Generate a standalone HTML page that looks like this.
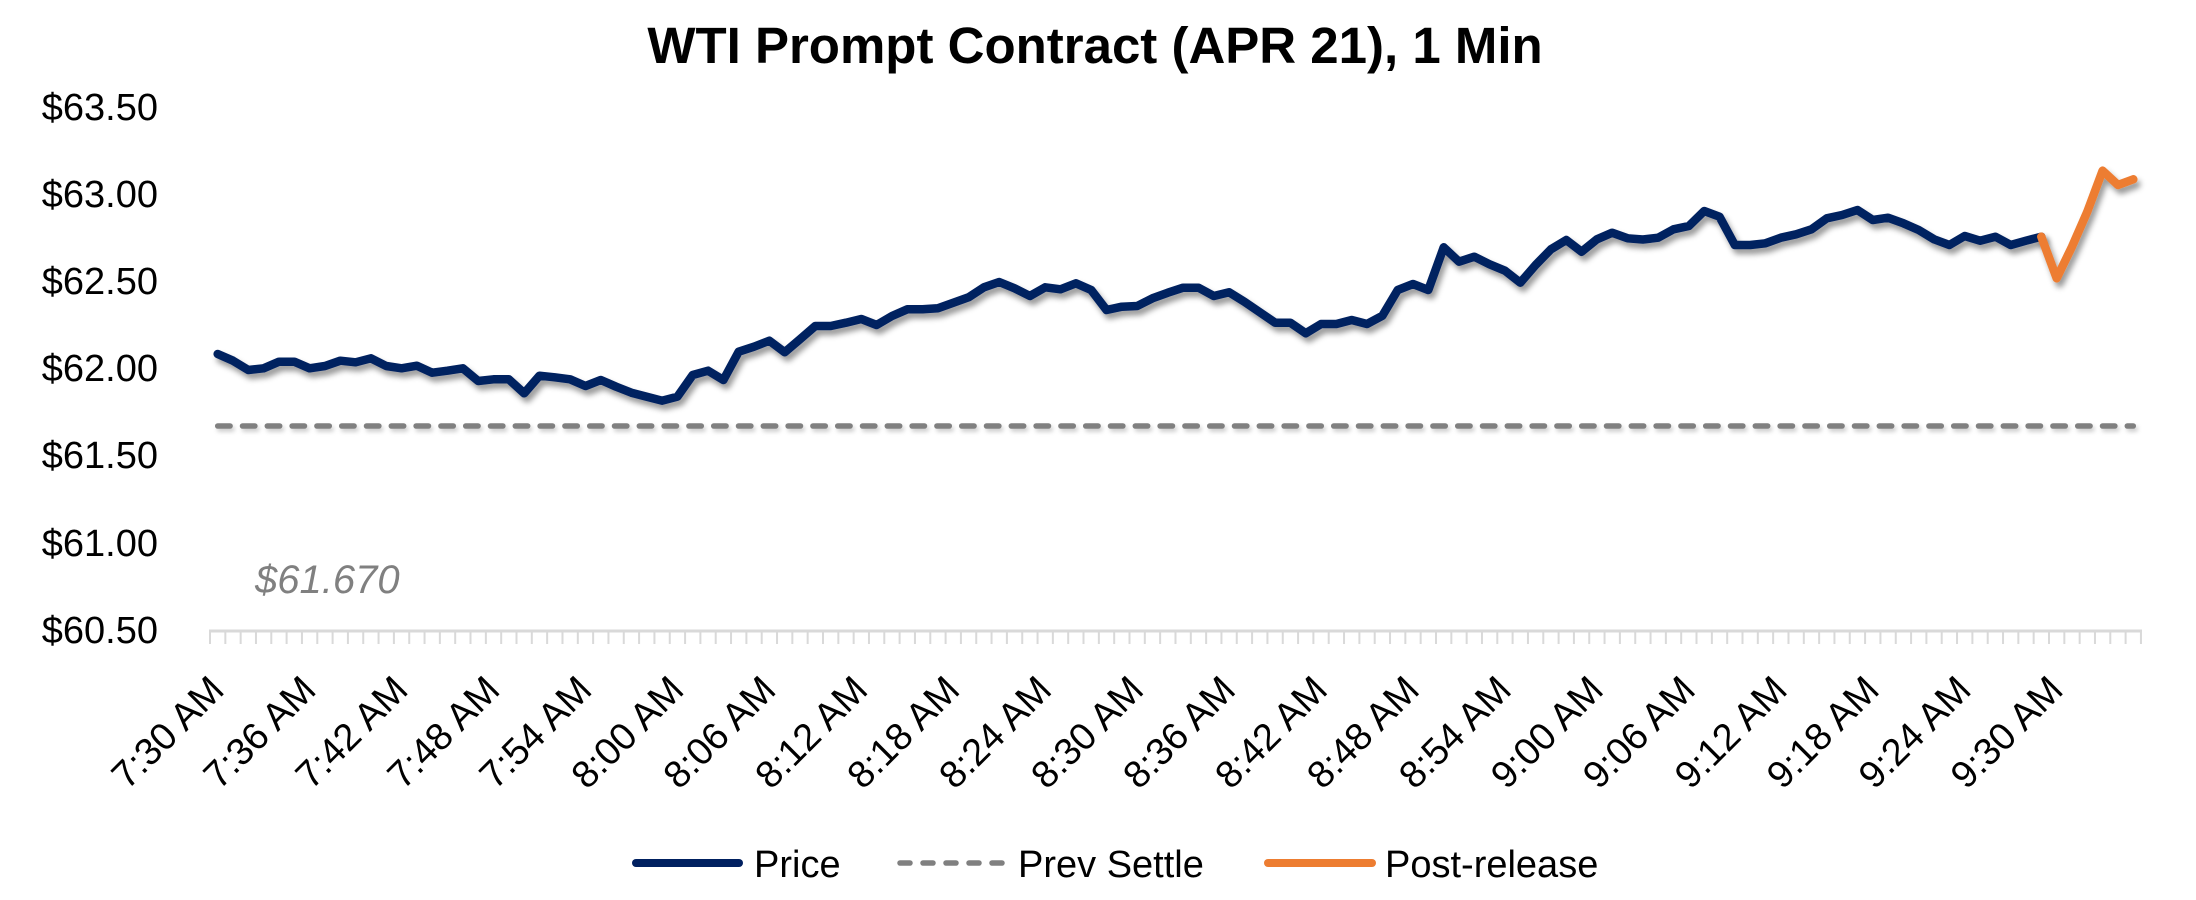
<!DOCTYPE html>
<html>
<head>
<meta charset="utf-8">
<style>
html,body{margin:0;padding:0;background:#fff;}
svg{display:block;}
text{font-family:"Liberation Sans",sans-serif;}
</style>
</head>
<body>
<svg width="2196" height="900" viewBox="0 0 2196 900" xmlns="http://www.w3.org/2000/svg">
<defs>
<filter id="sh" filterUnits="userSpaceOnUse" x="150" y="100" width="2050" height="400">
<feDropShadow dx="3" dy="5" stdDeviation="3" flood-color="#000" flood-opacity="0.4"/>
</filter>
<filter id="sh2" filterUnits="userSpaceOnUse" x="150" y="380" width="2050" height="90">
<feDropShadow dx="2" dy="3" stdDeviation="2" flood-color="#000" flood-opacity="0.2"/>
</filter>
</defs>
<rect width="2196" height="900" fill="#fff"/>

<!-- Title -->
<text x="1095" y="63" font-size="51" font-weight="bold" text-anchor="middle" fill="#000">WTI Prompt Contract (APR 21), 1 Min</text>

<!-- Y axis labels -->
<g font-size="38" fill="#000" text-anchor="end">
<text x="158" y="120">$63.50</text>
<text x="158" y="207">$63.00</text>
<text x="158" y="294">$62.50</text>
<text x="158" y="381">$62.00</text>
<text x="158" y="468">$61.50</text>
<text x="158" y="556">$61.00</text>
<text x="158" y="643">$60.50</text>
</g>

<!-- Prev settle label -->
<text x="255" y="593" font-size="40" font-style="italic" fill="#808080">$61.670</text>

<!-- X axis -->
<line x1="209" y1="631" x2="2142" y2="631" stroke="#d9d9d9" stroke-width="3"/>
<line x1="209" y1="637.5" x2="2142" y2="637.5" stroke="#d9d9d9" stroke-width="13" stroke-dasharray="2 13.325"/>

<!-- X labels -->
<g font-size="38" fill="#000" text-anchor="end">
<text transform="translate(226,692) rotate(-45)">7:30 AM</text>
<text transform="translate(317.9,692) rotate(-45)">7:36 AM</text>
<text transform="translate(409.9,692) rotate(-45)">7:42 AM</text>
<text transform="translate(501.8,692) rotate(-45)">7:48 AM</text>
<text transform="translate(593.8,692) rotate(-45)">7:54 AM</text>
<text transform="translate(685.7,692) rotate(-45)">8:00 AM</text>
<text transform="translate(777.7,692) rotate(-45)">8:06 AM</text>
<text transform="translate(869.6,692) rotate(-45)">8:12 AM</text>
<text transform="translate(961.6,692) rotate(-45)">8:18 AM</text>
<text transform="translate(1053.5,692) rotate(-45)">8:24 AM</text>
<text transform="translate(1145.5,692) rotate(-45)">8:30 AM</text>
<text transform="translate(1237.4,692) rotate(-45)">8:36 AM</text>
<text transform="translate(1329.4,692) rotate(-45)">8:42 AM</text>
<text transform="translate(1421.3,692) rotate(-45)">8:48 AM</text>
<text transform="translate(1513.3,692) rotate(-45)">8:54 AM</text>
<text transform="translate(1605.2,692) rotate(-45)">9:00 AM</text>
<text transform="translate(1697.2,692) rotate(-45)">9:06 AM</text>
<text transform="translate(1789.1,692) rotate(-45)">9:12 AM</text>
<text transform="translate(1881.1,692) rotate(-45)">9:18 AM</text>
<text transform="translate(1973.0,692) rotate(-45)">9:24 AM</text>
<text transform="translate(2065.0,692) rotate(-45)">9:30 AM</text>
</g>

<!-- Prev settle dashed line -->
<line x1="217.7" y1="426" x2="2133.3" y2="426" stroke="#808080" stroke-width="5.5" stroke-dasharray="12.4 12.4" stroke-linecap="round" filter="url(#sh2)"/>

<!-- Price line -->
<polyline filter="url(#sh)" fill="none" stroke="#002060" stroke-width="8.5" stroke-linejoin="round" stroke-linecap="round" points="
217.7,354 233.0,360.7 248.3,370 263.6,368.3 279.0,361.7 294.3,361.7 309.6,368.3 325.0,366 340.3,360.7 355.6,362.3
370.9,358.3 386.2,366 401.6,368.3 416.9,365.7 432.2,372.7 447.5,370.7 462.9,368.3 478.2,381 493.5,379.3 508.8,379.3
524.2,393.3 539.5,375.7 554.8,377.3 570.1,379.3 585.5,386 600.8,380 616.1,386.7 631.4,392.7 646.8,396.7 662.1,400.7
677.4,396.7 692.7,375 708.1,370.7 723.4,380 738.7,351.7 754.0,346.7 769.4,340.7 784.7,352.3 800.0,339.3 815.3,326
830.7,326 846.0,322.7 861.3,319 876.6,325 892.0,316 907.3,309.3 922.6,309.3 937.9,308.3 953.3,302.7 968.6,297.3
983.9,287.3 999.2,282 1014.6,288.3 1029.9,296 1045.2,287.3 1060.5,289.3 1075.9,283.3 1091.2,290 1106.5,310 1121.8,306.7
1137.2,306 1152.5,298.3 1167.8,292.7 1183.1,287.7 1198.5,287.7 1213.8,296 1229.1,292.3 1244.4,301.7 1259.8,312.3 1275.1,322.7
1290.4,322.7 1305.7,333.3 1321.1,324 1336.4,324 1351.7,320 1367.0,324 1382.4,315.7 1397.7,290 1413.0,284 1428.3,290
1443.7,247.3 1459.0,261.7 1474.3,256.7 1489.6,264.3 1505.0,270.7 1520.3,282.7 1535.6,265 1550.9,249.3 1566.3,240 1581.6,251.7
1596.9,239.3 1612.2,232.7 1627.6,238.3 1642.9,239.5 1658.2,237.7 1673.5,229.3 1688.9,226 1704.2,211 1719.5,216.7 1734.8,245
1750.2,245 1765.5,243.3 1780.8,237.7 1796.1,234.3 1811.5,229.3 1826.8,218.3 1842.1,215 1857.4,210 1872.8,220 1888.1,217.7
1903.4,223.3 1918.7,230 1934.1,239.3 1949.4,245 1964.7,236 1980.0,240.7 1995.4,236.7 2010.7,245 2026.0,240.7 2041.3,236.7"/>

<!-- Post-release line -->
<polyline filter="url(#sh)" fill="none" stroke="#ED7D31" stroke-width="8.5" stroke-linejoin="round" stroke-linecap="round" points="2041.3,236.7 2056.7,278.3 2072.0,246.7 2087.3,211.7 2102.6,170.7 2118.0,185 2133.3,179.3"/>

<!-- Legend -->
<line x1="636" y1="863" x2="739" y2="863" stroke="#002060" stroke-width="8" stroke-linecap="round"/>
<text x="754" y="877" font-size="38" fill="#000">Price</text>
<line x1="900" y1="863" x2="1004" y2="863" stroke="#808080" stroke-width="5.5" stroke-dasharray="10 13" stroke-linecap="round"/>
<text x="1018" y="877" font-size="38" fill="#000">Prev Settle</text>
<line x1="1268" y1="863" x2="1372" y2="863" stroke="#ED7D31" stroke-width="8" stroke-linecap="round"/>
<text x="1385" y="877" font-size="38" fill="#000">Post-release</text>
</svg>
</body>
</html>
